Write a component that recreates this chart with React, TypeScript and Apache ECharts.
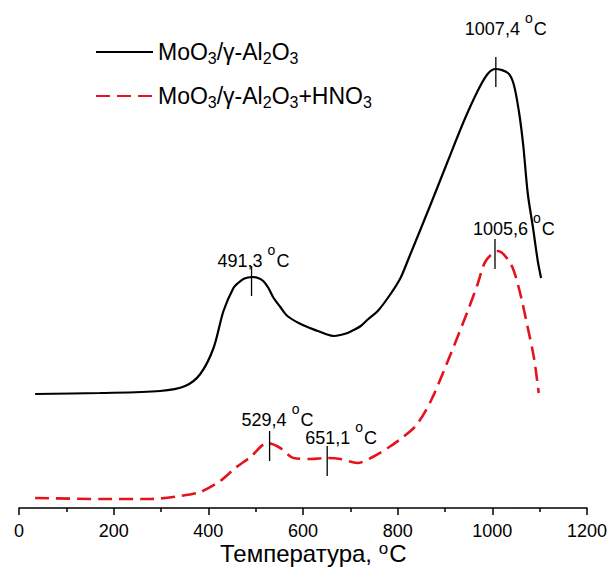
import React, { useEffect, useRef } from "react";
import * as echarts from "echarts";

// Sample (black, solid) — temperature, °C
const blackX = [34, 171, 298, 351, 383, 411, 432, 453, 463, 474, 484, 493, 505, 516, 527, 538, 552, 567, 595, 631, 648, 665, 679, 694, 707, 722, 738, 758, 785, 806, 821, 870, 906, 940, 969, 990, 1007, 1033, 1045, 1056, 1065, 1075, 1086, 1096, 1103];
// Signal (arbitrary units)
const blackY = [114, 115, 117, 122, 134, 160, 197, 220, 225, 229, 230.5, 231, 230, 227, 220, 210, 201, 192, 184, 177, 174, 172, 173, 175, 178, 182, 189, 197, 214, 230, 247, 304, 347, 387, 417, 434, 439, 435, 424, 397, 364, 314, 280, 247, 230];

// Sample + HNO3 (red, dashed)
const redX = [34, 171, 277, 341, 383, 425, 457, 489, 525, 552, 580, 616, 652, 679, 715, 743, 779, 806, 838, 870, 912, 948, 969, 986, 1012, 1039, 1056, 1075, 1088, 1098];
const redY = [10, 9, 9, 12, 16, 27, 40, 51, 65, 60, 50, 49, 50, 49, 45, 50, 60, 69, 82, 107, 154, 197, 224, 247, 257, 244, 220, 180, 150, 115];

// Peak annotations
const peakX = [491.3, 1007.4, 529.4, 651.1, 1005.6];
const peakY = [230, 439, 65, 50, 257];
const peakLabels = ["491,3", "1007,4", "529,4", "651,1", "1005,6"];
// label layout offsets (px) relative to the peak point
const labelDx = [-34, -31, -28, -22, -22];
const labelDy = [-17, -40, -23, -20, -22];

const seriesNames = ["MoO{sub|3}/γ-Al{sub|2}O{sub|3}", "MoO{sub|3}/γ-Al{sub|2}O{sub|3}+HNO{sub|3}"];

const xTicks = [0, 200, 400, 600, 800, 1000, 1200];
const axisTitle = "Температура,";

const FONT = "'Liberation Sans', Arial, sans-serif";

export default function App() {
  const ref = useRef<HTMLDivElement>(null);
  useEffect(() => {
    if (!ref.current) return;
    const ctx = document.createElement("canvas").getContext("2d")!;
    const tw = (s: string, size: number) => {
      ctx.font = `${size}px ${FONT}`;
      return ctx.measureText(s).width;
    };
    const chart = echarts.init(ref.current, null, { renderer: "svg" });
    const blackData = blackX.map((x, i) => [x, blackY[i]]);
    const redData = redX.map((x, i) => [x, redY[i]]);
    const peakData = peakX.map((x, i) => [x, peakY[i], i]);

    // axis title (with superscript "o")
    const tX = 220;
    const tY = 553;
    const tMainW = tw(axisTitle + " ", 24);
    const tOW = tw("o", 17);

    chart.setOption({
      animation: false,
      backgroundColor: "#fff",
      textStyle: { fontFamily: FONT },
      grid: { left: 19, right: 25, top: 1, bottom: 59, containLabel: false, outerBoundsMode: "none" },
      legend: {
        data: seriesNames,
        orient: "vertical",
        left: 95,
        top: 38,
        padding: 0,
        itemWidth: 57,
        itemHeight: 14,
        itemGap: 16,
        itemStyle: { opacity: 0 },
        textStyle: {
          fontFamily: FONT,
          fontSize: 23,
          color: "#000",
          lineHeight: 28,
          rich: {
            sub: { fontSize: 16, lineHeight: 14, verticalAlign: "bottom", fontFamily: FONT, color: "#000" },
          },
        },
      },
      graphic: [
        {
          type: "group",
          silent: true,
          children: [
            { type: "text", x: tX, y: tY, style: { text: axisTitle + " ", fontSize: 24, fontFamily: FONT, fill: "#000", align: "left", verticalAlign: "middle" } },
            { type: "text", x: tX + tMainW, y: tY - 5, style: { text: "o", fontSize: 17, fontFamily: FONT, fill: "#000", align: "left", verticalAlign: "middle" } },
            { type: "text", x: tX + tMainW + tOW + 1, y: tY, style: { text: "C", fontSize: 24, fontFamily: FONT, fill: "#000", align: "left", verticalAlign: "middle" } },
          ],
        },
      ],
      xAxis: {
        type: "value",
        min: 0,
        max: 1200,
        interval: 200,
        axisLine: { show: true, onZero: false, lineStyle: { color: "#000", width: 1.5 } },
        axisTick: { show: true, inside: false, length: 7, lineStyle: { color: "#000", width: 1.5 } },
        minorTick: { show: true, splitNumber: 2, length: 4, lineStyle: { color: "#000", width: 1.5 } },
        splitLine: { show: false },
        minorSplitLine: { show: false },
        axisLabel: {
          fontFamily: FONT,
          fontSize: 18,
          color: "#000",
          margin: 14,
          formatter: (v: number) => (xTicks.includes(v) ? String(v) : ""),
        },
      },
      yAxis: { type: "value", min: 0, max: 507, show: false, splitLine: { show: false } },
      series: [
        {
          name: seriesNames[0],
          type: "line",
          data: blackData,
          smooth: 0.3,
          symbol: "none",
          showSymbol: false,
          lineStyle: { color: "#000", width: 2.2 },
          itemStyle: { color: "#000" },
          z: 3,
        },
        {
          name: seriesNames[1],
          type: "line",
          data: redData,
          smooth: 0.3,
          symbol: "none",
          showSymbol: false,
          lineStyle: { color: "#e3141e", width: 2.6, type: [14, 7] },
          itemStyle: { color: "#e3141e" },
          z: 3,
        },
        {
          type: "custom",
          data: peakData,
          z: 5,
          silent: true,
          renderItem: (params: any, api: any) => {
            const i = params.dataIndex;
            const p = api.coord([api.value(0), api.value(1)]);
            const lx = p[0] + labelDx[i];
            const ly = p[1] + labelDy[i];
            const mainText = peakLabels[i] + " ";
            const wMain = tw(mainText, 18);
            const wO = tw("o", 14);
            return {
              type: "group",
              children: [
                {
                  type: "line",
                  shape: { x1: p[0], y1: p[1] - 12, x2: p[0], y2: p[1] + 18 },
                  style: { stroke: "#000", lineWidth: 1.3 },
                },
                {
                  type: "text",
                  x: lx,
                  y: ly,
                  style: { text: mainText, fill: "#000", fontSize: 18, fontFamily: FONT, align: "left", verticalAlign: "middle" },
                },
                {
                  type: "text",
                  x: lx + wMain,
                  y: ly - 11,
                  style: { text: "o", fill: "#000", fontSize: 14, fontFamily: FONT, align: "left", verticalAlign: "middle" },
                },
                {
                  type: "text",
                  x: lx + wMain + wO + 1,
                  y: ly,
                  style: { text: "C", fill: "#000", fontSize: 18, fontFamily: FONT, align: "left", verticalAlign: "middle" },
                },
              ],
            };
          },
        },
      ],
    });
    return () => chart.dispose();
  }, []);
  return <div ref={ref} style={{ position: "fixed", left: 0, top: 0, width: 612, height: 567 }} />;
}
